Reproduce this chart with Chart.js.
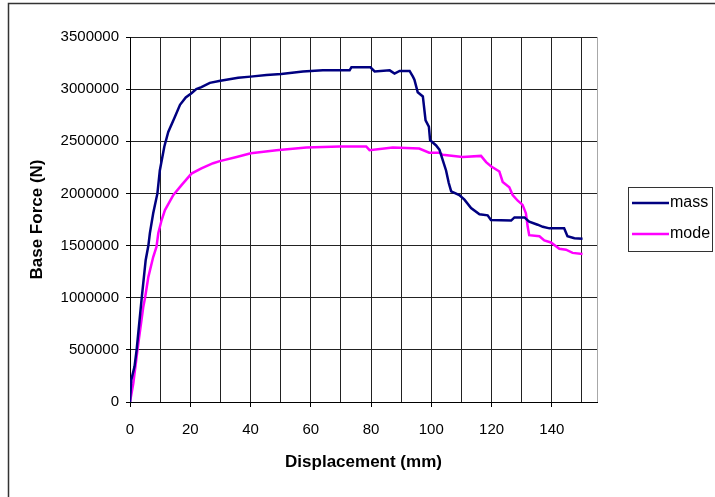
<!DOCTYPE html>
<html>
<head>
<meta charset="utf-8">
<script src="https://cdn.jsdelivr.net/npm/chart.js@4"></script>
<style>
    html, body { margin: 0; padding: 0; background: #fff; }
    canvas { display: block; }
</style>
</head>
<body>
<canvas id="pushover" width="715" height="497"></canvas>
<script>
    // pushover curves: displacement (mm) vs base force (N)
    let massDisp = [0, 0.4, 1.5, 2.2, 3.9, 5.2, 6.1, 6.6, 7.7, 9.1, 9.9, 11.4, 12.7, 14.7, 16.6, 18.5,
        20.4, 22, 23.7, 26.5, 30, 35.9, 40, 45.3, 50.2, 57.4, 64, 72.9, 73.5, 79.8, 81.2, 86.2, 87.8,
        89.5, 92.8, 93.9, 94.4, 95.5, 97.2, 98.1, 99.2, 99.6, 101.6, 102.7, 103.8, 104.9, 105.8, 106.6,
        109.3, 111, 113.2, 116, 118.7, 119.8, 126.5, 127.6, 130.9, 132.5, 135.3, 137, 139.2, 144.1,
        145.2, 147.5, 150.2];
    let massForce = [0, 210000, 340000, 500000, 1000000, 1360000, 1500000, 1620000, 1810000, 2000000,
        2220000, 2450000, 2590000, 2720000, 2850000, 2920000, 2960000, 3000000, 3020000, 3060000,
        3080000, 3110000, 3120000, 3135000, 3145000, 3170000, 3180000, 3180000, 3210000, 3210000,
        3170000, 3180000, 3150000, 3175000, 3175000, 3120000, 3090000, 2970000, 2930000, 2700000,
        2640000, 2510000, 2460000, 2420000, 2320000, 2220000, 2100000, 2020000, 1985000, 1940000,
        1860000, 1800000, 1790000, 1745000, 1740000, 1770000, 1770000, 1730000, 1700000, 1680000,
        1665000, 1665000, 1590000, 1570000, 1565000];

    let modeDisp = [0, 1.1, 2.75, 4.4, 5.0, 6.1, 7.7, 8.8, 9.4, 10.5, 11.6, 14.4, 17.1, 20.4, 23.7,
        27.6, 29.8, 35.4, 40.1, 48.6, 58.5, 69.6, 78.4, 79.5, 87.2, 96, 99.3, 102.7, 103.8, 110.4,
        116.5, 118.2, 119.8, 122.6, 123.7, 125.9, 127, 128.7, 130.3, 131.4, 132, 132.5, 135.9, 137.5,
        139.7, 142.5, 144.7, 146.9, 150.2];
    let modeForce = [0, 180000, 560000, 910000, 1000000, 1200000, 1390000, 1490000, 1620000, 1745000,
        1840000, 1985000, 2080000, 2190000, 2240000, 2290000, 2310000, 2350000, 2385000, 2415000,
        2440000, 2450000, 2450000, 2415000, 2440000, 2430000, 2390000, 2390000, 2370000, 2350000,
        2360000, 2300000, 2260000, 2210000, 2110000, 2060000, 1985000, 1930000, 1890000, 1810000,
        1680000, 1600000, 1590000, 1550000, 1530000, 1470000, 1460000, 1430000, 1420000];

    let seriesNames = ['mass', 'mode'];
    let seriesColors = ['#000080', '#ff00ff'];

    let xTicks = [0, 20, 40, 60, 80, 100, 120, 140];

    const FONT = '"Liberation Sans", Arial, sans-serif';

    const toPoints = (xs, ys) => xs.map((x, i) => ({x: x, y: ys[i]}));

    // white page, outer frame and the grey right edge of the plot
    const frame = {
        id: 'frame',
        beforeDraw(chart) {
            let ctx = chart.ctx;
            let area = chart.chartArea;
            ctx.save();
            ctx.fillStyle = '#fff';
            ctx.fillRect(0, 0, chart.width, chart.height);
            ctx.strokeStyle = '#333';
            ctx.lineWidth = 1.5;
            ctx.beginPath();
            ctx.moveTo(8.5, chart.height);
            ctx.lineTo(8.5, 3.5);
            ctx.lineTo(chart.width, 3.5);
            ctx.stroke();
            ctx.strokeStyle = '#a8a8a8';
            ctx.lineWidth = 1;
            ctx.beginPath();
            ctx.moveTo(Math.round(area.right) + 0.5, area.top);
            ctx.lineTo(Math.round(area.right) + 0.5, area.bottom);
            ctx.stroke();
            ctx.restore();
        }
    };

    // boxed legend to the right of the plot
    const boxLegend = {
        id: 'boxLegend',
        afterDraw(chart) {
            let ctx = chart.ctx;
            let x0 = 628, y0 = 187;
            ctx.save();
            ctx.strokeStyle = '#333';
            ctx.lineWidth = 1;
            ctx.strokeRect(x0 + 0.5, y0 + 0.5, 84, 64);
            ctx.font = '16px ' + FONT;
            ctx.textBaseline = 'middle';
            ctx.fillStyle = '#000';
            chart.data.datasets.forEach((ds, i) => {
                let y = y0 + 16 + i * 31;
                ctx.strokeStyle = ds.borderColor;
                ctx.lineWidth = 2.5;
                ctx.beginPath();
                ctx.moveTo(x0 + 4, y);
                ctx.lineTo(x0 + 41, y);
                ctx.stroke();
                ctx.fillText(ds.label, x0 + 42, y);
            });
            ctx.restore();
        }
    };

    let datasets = [toPoints(massDisp, massForce), toPoints(modeDisp, modeForce)].map((pts, i) => ({
        label: seriesNames[i],
        data: pts,
        borderColor: seriesColors[i],
        backgroundColor: seriesColors[i],
        borderWidth: 2.5,
        pointRadius: 0,
        tension: 0,
        fill: false
    }));

    new Chart(document.getElementById('pushover').getContext('2d'), {
        type: 'line',
        data: { datasets: datasets },
        plugins: [frame, boxLegend],
        options: {
            responsive: false,
            animation: false,
            devicePixelRatio: 1,
            layout: { padding: { left: 0, top: 37, right: 118, bottom: 0 } },
            plugins: {
                legend: { display: false },
                tooltip: { enabled: false }
            },
            scales: {
                x: {
                    type: 'linear',
                    min: 0,
                    max: 155,
                    afterFit: scale => { scale.height = 95; },
                    border: { color: '#000', width: 1 },
                    grid: {
                        color: '#222',
                        lineWidth: 1,
                        tickLength: 5,
                        tickColor: c => xTicks.includes(c.tick.value) ? '#000' : 'rgba(0,0,0,0)'
                    },
                    ticks: {
                        stepSize: 10,
                        includeBounds: false,
                        maxRotation: 0,
                        autoSkip: false,
                        padding: 14,
                        color: '#000',
                        font: { family: FONT, size: 15 },
                        callback: v => xTicks.includes(v) ? String(v) : ''
                    },
                    title: {
                        display: true,
                        text: 'Displacement (mm)',
                        color: '#000',
                        font: { family: FONT, size: 17, weight: 'bold' },
                        padding: { top: 0, bottom: 24 }
                    }
                },
                y: {
                    min: 0,
                    max: 3500000,
                    afterFit: scale => { scale.width = 130; },
                    border: { color: '#000', width: 1 },
                    grid: { color: '#222', lineWidth: 1, tickLength: 4, tickColor: '#000' },
                    ticks: {
                        stepSize: 500000,
                        padding: 7,
                        color: '#000',
                        font: { family: FONT, size: 15 },
                        callback: v => String(v)
                    },
                    title: {
                        display: true,
                        text: 'Base Force (N)',
                        color: '#000',
                        font: { family: FONT, size: 17, weight: 'bold' },
                        padding: { top: 27, bottom: 0 }
                    }
                }
            }
        }
    });
</script>
</body>
</html>
